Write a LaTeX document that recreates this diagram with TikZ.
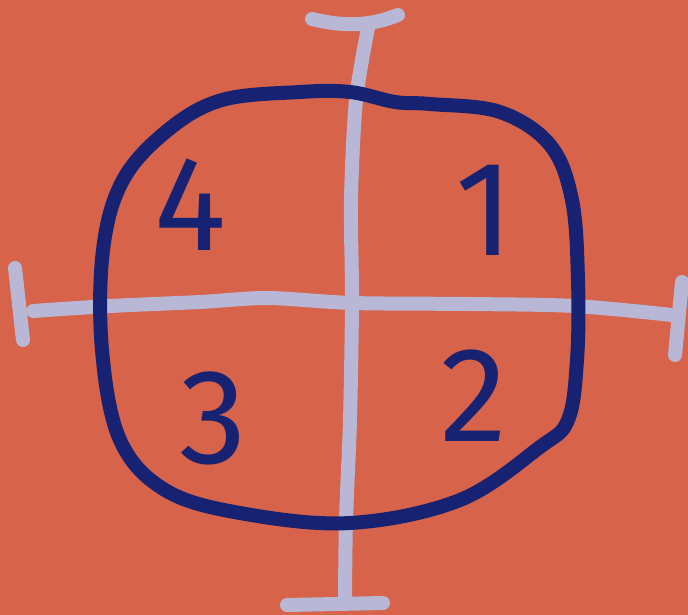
\documentclass[tikz,border=0pt]{standalone}
\usepackage{fontspec}
\newfontfamily\handfont{Fira Sans}
\definecolor{bgc}{HTML}{D6634A}
\definecolor{axc}{HTML}{B8B8D6}
\definecolor{navyc}{HTML}{172272}
\begin{document}
\begin{tikzpicture}[x=1pt,y=-1pt,
  axis/.style={draw=axc,line width=14pt,line cap=round,line join=round},
  blob/.style={draw=navyc,line width=14pt,line cap=round,line join=round},
  num/.style={text=navyc,font=\handfont\fontsize{135}{135}\selectfont,inner sep=0pt}]
\fill[bgc] (0,0) rectangle (688,615);
\useasboundingbox (0,0) rectangle (688,615);
% vertical axis
\draw[axis] (312,19) .. controls (345,27) and (370,26) .. (398,15);
\draw[axis] plot[smooth] coordinates {(368,28) (356,100) (351,200) (352,300) (350,420) (346,520) (345,600)};
\draw[axis] (287,605) -- (383,603);
% horizontal axis
\draw[axis] plot[smooth] coordinates {(33,311) (110,306) (200,302) (268,298) (352,303) (470,304) (575,306) (672,315)};
\draw[axis] (15,268) -- (23,340);
\draw[axis] (682,282) -- (675,355);
% blob
\draw[blob] plot[smooth cycle,tension=0.6] coordinates {
 (168,130) (222,100) (300,92) (350,92) (395,102) (430,104) (500,112)
 (550,145) (572,200) (578,280) (577,360) (568,420) (540,447)
 (460,500) (350,523) (240,513) (165,490) (120,440) (102,350)
 (103,250) (123,180)};
% numbers
\node[num] (n1) at (485,210) {1};
\node[num] (n2) at (474,396) {2};
\node[num] (n3) at (213,418) {3};
\node[num] (n4) at (190,205) {4};
\end{tikzpicture}
\end{document}
